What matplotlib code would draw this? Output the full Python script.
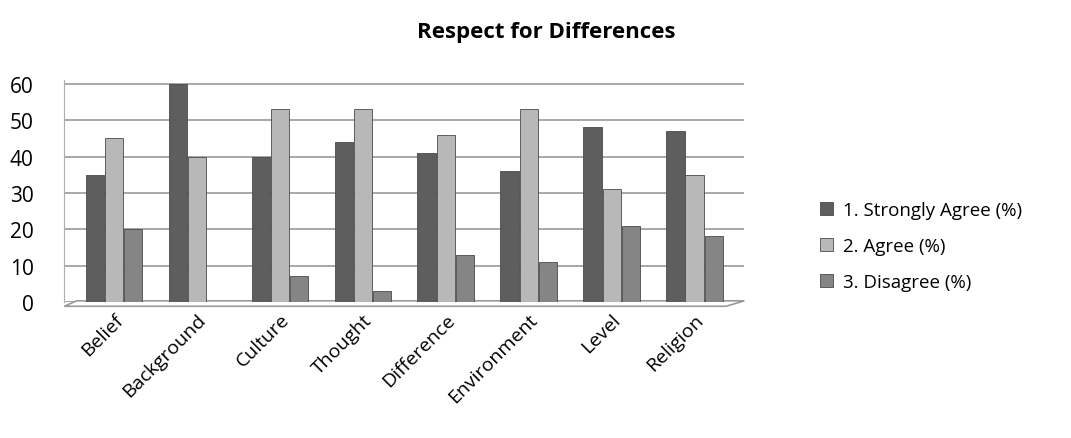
import numpy as np
import matplotlib
matplotlib.use("Agg")
import matplotlib.pyplot as plt
from matplotlib.patches import Polygon

categories = ["Belief", "Background", "Culture", "Thought", "Difference",
              "Environment", "Level", "Religion"]
strongly_agree = [35, 60, 40, 44, 41, 36, 48, 47]
agree = [45, 40, 53, 53, 46, 53, 31, 35]
disagree = [20, 0, 7, 3, 13, 11, 21, 18]
series_names = ["1. Strongly Agree (%)", "2. Agree (%)", "3. Disagree (%)"]
colors = ["#5e5e5e", "#b8b8b8", "#858585"]

plt.rcParams['font.family'] = ['Open Sans', 'DejaVu Sans']

fig = plt.figure(figsize=(10.71, 4.39), dpi=100)
ax = fig.add_axes([0.06, 0.31, 0.635, 0.505])

x = np.arange(len(categories))
w = 0.22
for i, (vals, name, c) in enumerate(zip([strongly_agree, agree, disagree], series_names, colors)):
    ax.bar(x + (i - 1) * w * 1.05, vals, w, color=c, edgecolor="#4a4a4a",
           linewidth=0.6, label=name, zorder=3)

ax.set_xlim(-0.6, len(categories) - 0.4)
ax.set_ylim(0, 61)
ax.set_yticks(range(0, 61, 10))
ax.yaxis.grid(True, color="#9a9a9a", linewidth=1.2, zorder=0)
for s in ["top", "right", "bottom"]:
    ax.spines[s].set_visible(False)
ax.spines["left"].set_color("#b0b0b0")
ax.tick_params(axis="y", length=0, labelsize=15, pad=22)
ax.tick_params(axis="x", length=0, labelsize=14, pad=6)
ax.set_xticks(x)
ax.set_xticklabels(categories, rotation=45, ha="right", rotation_mode="anchor")

# floor of the pseudo 3D chart
floor = Polygon([[-0.6, -1.2], [len(categories) - 0.62, -1.2],
                 [len(categories) - 0.4, 0.3], [-0.45, 0.3]],
                closed=True, facecolor="white", edgecolor="#9a9a9a",
                linewidth=1.2, clip_on=False, zorder=2)
ax.add_patch(floor)

fig.suptitle("Respect for Differences", x=0.51, y=0.95, fontsize=16, fontweight="bold")

fig.legend(loc="center left", bbox_to_anchor=(0.75, 0.437), frameon=False,
           fontsize=13.5, handlelength=0.7, handleheight=0.7, labelspacing=0.95,
           handletextpad=0.5)

fig.savefig("out.png", dpi=100)
